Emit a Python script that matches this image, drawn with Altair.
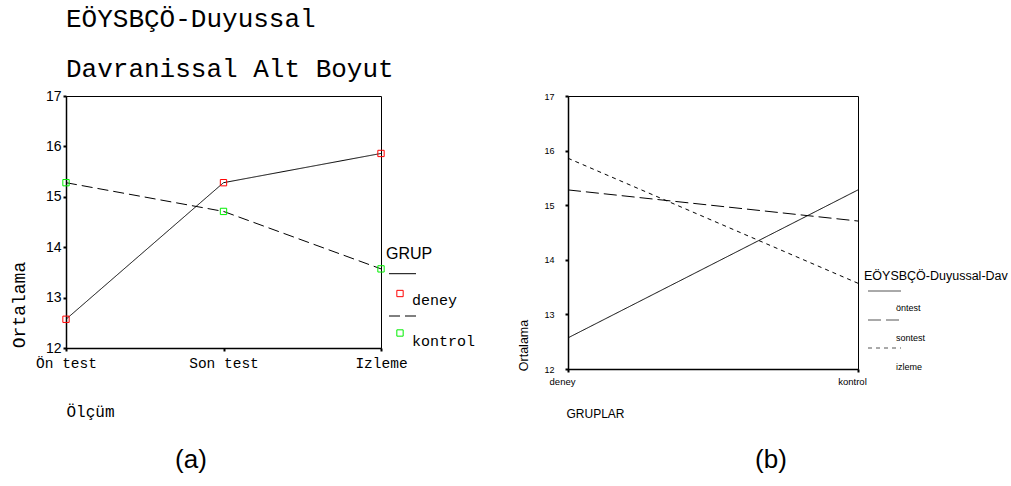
import altair as alt
import pandas as pd

# --- values -------------------------------------------------------------
olcum = ["Ön test", "Son test", "Izleme"]          # measurement occasions (panel a)
olcum_b = ["öntest", "sontest", "izleme"]          # same occasions, panel b series
gruplar = ["deney", "kontrol"]                      # groups
deney = [12.57, 15.28, 15.86]                       # mean of deney group
kontrol = [15.28, 14.71, 13.57]                     # mean of kontrol group
y_ticks = [12, 13, 14, 15, 16, 17]

title_lines = ["EÖYSBÇÖ-Duyussal", "Davranissal Alt Boyut"]
legend_a_title = "GRUP"
legend_b_title = "EÖYSBÇÖ-Duyussal-Dav"
panel_tags = ["(a)", "(b)"]

MONO = "Liberation Mono"
SANS = "Liberation Sans"

# dash patterns: one per group in (a), one per occasion in (b)
DASH_A = [[1, 0], [11, 5]]
DASH_B = [[1, 0], [13, 5], [4, 4]]
SQUARE_COLORS = ["#ff0000", "#00ee00"]

# --- long tables --------------------------------------------------------
rows_a = []
for g, vals in zip(gruplar, [deney, kontrol]):
    for i, (o, v) in enumerate(zip(olcum, vals)):
        rows_a.append({"olcum": o, "grup": g, "ortalama": v, "i": i})
df_a = pd.DataFrame(rows_a)

rows_b = []
for k, o in enumerate(olcum_b):
    for i, (g, vals) in enumerate(zip(gruplar, [deney, kontrol])):
        rows_b.append({"olcum": o, "grup": g, "ortalama": vals[k], "i": i})
df_b = pd.DataFrame(rows_b)


def one(text=""):
    return alt.Chart(pd.DataFrame({"t": [text]}))


def label(text, x, y, font, size, align="left", baseline="alphabetic"):
    return one(text).mark_text(font=font, fontSize=size, align=align,
                               baseline=baseline, color="black").encode(
        text="t:N", x=alt.value(x), y=alt.value(y))


def key_line(x1, x2, y, dash, color="black"):
    return one().mark_rule(color=color, strokeWidth=1, strokeDash=dash).encode(
        x=alt.value(x1), x2=alt.value(x2), y=alt.value(y))


def key_square(x, y, color):
    return one().mark_point(shape="square", filled=False, size=40,
                            strokeWidth=1, color=color, opacity=1).encode(
        x=alt.value(x), y=alt.value(y))


# --- panel (a): means by occasion ---------------------------------------
W_A, H_A = 315, 252

x_a = alt.X("olcum:N", sort=olcum,
            scale=alt.Scale(type="point", domain=olcum, padding=0),
            axis=alt.Axis(title="Ölçüm", labelAngle=0, labelFont=MONO,
                          labelFontSize=14.5, labelColor="black", labelPadding=5,
                          tickSize=3, tickWidth=2, tickColor="black",
                          domainColor="black", domainWidth=1.5, grid=False,
                          titleFont=MONO, titleFontSize=16,
                          titleFontWeight="normal", titleColor="black",
                          titleX=0, titleY=68, titleAlign="left",
                          titleBaseline="alphabetic"))
y_a = alt.Y("ortalama:Q", scale=alt.Scale(domain=[12, 17], nice=False, zero=False),
            axis=alt.Axis(values=y_ticks, title="Ortalama", labelFont=SANS,
                          labelFontSize=14, labelColor="black", labelPadding=2,
                          tickSize=3, tickWidth=2, tickColor="black",
                          domainColor="black", domainWidth=1.5, grid=False,
                          titleFont=MONO, titleFontSize=18,
                          titleFontWeight="normal", titleColor="black",
                          titleX=-46.5, titleY=208.5, titleAlign="center",
                          titleBaseline="middle", titleAngle=270))

base_a = alt.Chart(df_a)
lines_a = [
    base_a.transform_filter(alt.datum.grup == g)
    .mark_line(color="black", strokeWidth=1, strokeDash=d)
    .encode(x=x_a, y=y_a, order=alt.Order("i:Q"))
    for g, d in zip(gruplar, DASH_A)
]
points_a = base_a.mark_point(shape="square", size=40, filled=False,
                             strokeWidth=1, opacity=1).encode(
    x=x_a, y=y_a,
    color=alt.Color("grup:N", legend=None,
                    scale=alt.Scale(domain=gruplar, range=SQUARE_COLORS)))

# fixes the top-left corner of the whole figure
anchor = one().mark_rect(color="white", opacity=0).encode(
    x=alt.value(-65), x2=alt.value(-62), y=alt.value(-95), y2=alt.value(-92))

panel_a = alt.layer(
    anchor, *lines_a, points_a,
    label(title_lines[0], 0, -69, MONO, 26),
    label(title_lines[1], 0, -19, MONO, 26),
    label(legend_a_title, 320, 163, SANS, 16),
    key_line(323, 350, 177.7, DASH_A[0]),
    key_square(334, 197.5, SQUARE_COLORS[0]),
    label(gruplar[0], 346, 209, MONO, 15),
    key_line(323, 350, 220, DASH_A[1]),
    key_square(334, 237, SQUARE_COLORS[1]),
    label(gruplar[1], 346, 250, MONO, 15),
    label(panel_tags[0], 125, 364, SANS, 26, align="center", baseline="middle"),
).properties(width=W_A, height=H_A)

# --- panel (b): means by group ------------------------------------------
W_B, H_B = 290, 273

x_b = alt.X("grup:N", sort=gruplar,
            scale=alt.Scale(type="point", domain=gruplar, padding=0),
            axis=alt.Axis(title="GRUPLAR", labelAngle=0, labelFont=SANS,
                          labelFontSize=9.5, labelColor="black", labelPadding=4,
                          labelOffset=-6, tickSize=3, tickWidth=2,
                          tickColor="black", domainColor="black",
                          domainWidth=1.5, grid=False, titleFont=SANS,
                          titleFontSize=12, titleFontWeight="normal",
                          titleColor="black", titleX=-2, titleY=48,
                          titleAlign="left", titleBaseline="alphabetic"))
y_b = alt.Y("ortalama:Q", scale=alt.Scale(domain=[12, 17], nice=False, zero=False),
            axis=alt.Axis(values=y_ticks, title="Ortalama", labelFont=SANS,
                          labelFontSize=9, labelColor="black", labelPadding=11,
                          tickSize=3, tickWidth=2, tickColor="black",
                          domainColor="black", domainWidth=1.5, grid=False,
                          titleFont=SANS, titleFontSize=12.5,
                          titleFontWeight="normal", titleColor="black",
                          titleX=-44.5, titleY=249, titleAlign="center",
                          titleBaseline="middle", titleAngle=270))

base_b = alt.Chart(df_b)
lines_b = [
    base_b.transform_filter(alt.datum.olcum == o)
    .mark_line(color="black", strokeWidth=1, strokeDash=d)
    .encode(x=x_b, y=y_b, order=alt.Order("i:Q"))
    for o, d in zip(olcum_b, DASH_B)
]

panel_b = alt.layer(
    *lines_b,
    label(legend_b_title, 296, 183.5, SANS, 12.5),
    key_line(300, 333, 195, DASH_B[0], "#555555"),
    label(olcum_b[0], 328, 212, SANS, 9, baseline="middle"),
    key_line(300, 333, 224, DASH_B[1], "#555555"),
    label(olcum_b[1], 328, 242, SANS, 9, baseline="middle"),
    key_line(300, 333, 252, DASH_B[2], "#555555"),
    label(olcum_b[2], 328, 271, SANS, 9, baseline="middle"),
    label(panel_tags[1], 203, 364, SANS, 26, align="center", baseline="middle"),
).properties(width=W_B, height=H_B)

chart = alt.hconcat(panel_a, panel_b, spacing=187, bounds="flush").properties(
    padding=0, background="white"
).configure_view(stroke="black", strokeWidth=1)

chart.save("out.html", embed_options={"renderer": "svg", "actions": False})
